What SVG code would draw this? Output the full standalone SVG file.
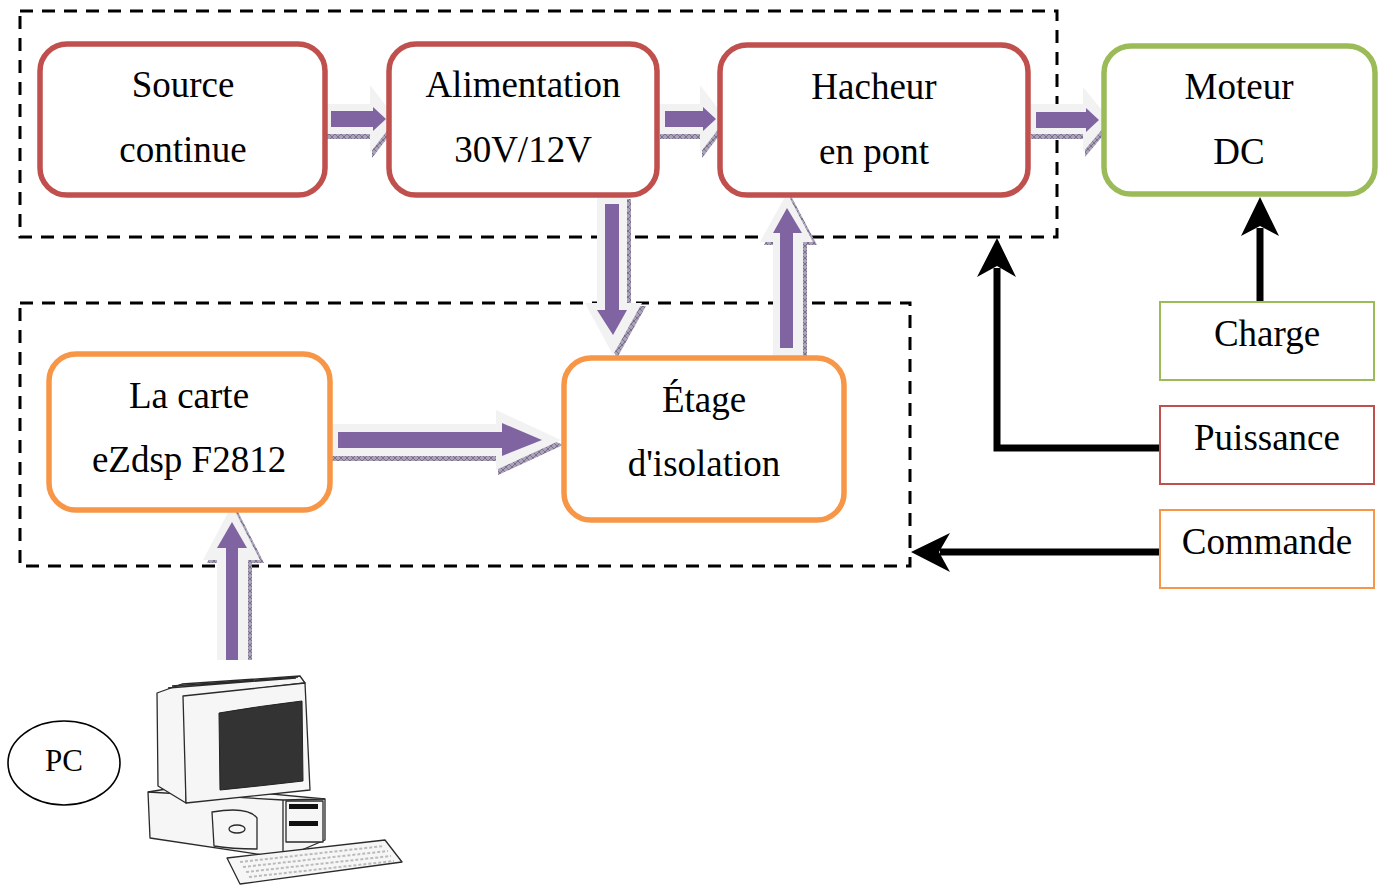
<svg xmlns="http://www.w3.org/2000/svg" width="1379" height="885" viewBox="0 0 1379 885">
  <defs>
    <style>
      .lbl { font-family: "Liberation Serif", "Times New Roman", serif; font-size: 37px; fill: #000; text-anchor: middle; }
      .frame { fill: none; stroke: #000; stroke-width: 3; stroke-dasharray: 13 9; }
      .red { fill: #fff; stroke: #c0504d; stroke-width: 5.5; }
      .green { fill: #fff; stroke: #9bbb59; stroke-width: 5.5; }
      .orange { fill: #fff; stroke: #f79646; stroke-width: 5.5; }
      .tag-green { fill: #fff; stroke: #9bbb59; stroke-width: 2; }
      .tag-red { fill: #fff; stroke: #c0504d; stroke-width: 2; }
      .tag-orange { fill: #fff; stroke: #f79646; stroke-width: 2; }
      .wire { fill: none; stroke: #000; stroke-width: 7; }
      .head { fill: #000; }
      .shadow { fill: url(#hatch); }
      .rim { fill: #f2f2f2; }
      .core { fill: #8064a2; }
      .pc { fill: #f6f6f6; stroke: #2a2a2a; stroke-width: 1.3; stroke-linejoin: round; }
    </style>
    <pattern id="hatch" width="6" height="6" patternUnits="userSpaceOnUse">
      <rect width="6" height="6" fill="#aaa2b8"/>
      <path d="M0,0 L6,6 M6,0 L0,6" stroke="#6e6482" stroke-width="0.8"/>
    </pattern>
  </defs>

  <!-- grouping frames -->
  <rect class="frame" x="20" y="11" width="1037" height="226"/>
  <rect class="frame" x="20" y="303" width="890" height="263"/>

  <!-- connectors -->
  <g id="connectors">
    <!-- power path: block arrows (shadow, light rim, purple core) -->
    <g id="a-source-alim">
      <path class="shadow" transform="translate(2,5)" d="M325,104 H370 V85 L396,119 L370,153 V134 H325 Z"/>
      <path class="rim" d="M325,104 H370 V85 L396,119 L370,153 V134 H325 Z"/>
      <path class="core" d="M331,111 H373 V107 L386,119 L373,131 V127 H331 Z"/>
    </g>
    <g id="a-alim-hacheur">
      <path class="shadow" transform="translate(2,5)" d="M658,104 H700 V85 L726,119 L700,153 V134 H658 Z"/>
      <path class="rim" d="M658,104 H700 V85 L726,119 L700,153 V134 H658 Z"/>
      <path class="core" d="M665,111 H703 V107 L716,119 L703,131 V127 H665 Z"/>
    </g>
    <g id="a-hacheur-moteur">
      <path class="shadow" transform="translate(2,5)" d="M1029,104 H1083 V87 L1110,120 L1083,152 V134 H1029 Z"/>
      <path class="rim" d="M1029,104 H1083 V87 L1110,120 L1083,152 V134 H1029 Z"/>
      <path class="core" d="M1036,112 H1086 V108 L1099,120 L1086,132 V128 H1036 Z"/>
    </g>
    <g id="a-alim-etage">
      <path class="shadow" transform="translate(4,3)" d="M597,196 H627 V303 H642 L613,355 L585,303 H597 Z"/>
      <path class="rim" d="M597,196 H627 V303 H642 L613,355 L585,303 H597 Z"/>
      <path class="core" d="M605,204 H619 V310 H627 L613,335 L597,310 H605 Z"/>
    </g>
    <g id="a-etage-hacheur">
      <path class="shadow" transform="translate(4,3)" d="M773,356 V242 H760 L787,193 L813,242 H803 V356 Z"/>
      <path class="rim" d="M773,358 V242 H760 L787,193 L813,242 H803 V358 Z"/>
      <path class="core" d="M780,348 V233 H773 L787,208 L802,233 H793 V348 Z"/>
    </g>
    <g id="a-carte-etage">
      <path class="shadow" transform="translate(2,5)" d="M330,424 H496 V410 L561,440 L496,470 V456 H330 Z"/>
      <path class="rim" d="M330,424 H496 V410 L561,440 L496,470 V456 H330 Z"/>
      <path class="core" d="M338,432 H502 V423 L542,440 L502,456 V448 H338 Z"/>
    </g>
    <g id="a-pc-carte">
      <path class="shadow" transform="translate(4,3)" d="M217,657 V560 H203 L232,505 L260,560 H248 V657 Z"/>
      <path class="rim" d="M217,660 V560 H203 L232,505 L260,560 H248 V660 Z"/>
      <path class="core" d="M226,660 V548 H217 L232,522 L247,548 H238 V660 Z"/>
    </g>

    <!-- legend wires -->
    <g id="w-charge">
      <path class="wire" d="M1260,302 V228"/>
      <path class="head" d="M1260,197 L1279,236 L1260,226 L1241,236 Z"/>
    </g>
    <g id="w-puissance">
      <path class="wire" d="M1160,448 H997 V268"/>
      <path class="head" d="M997,238 L1016,277 L997,266 L977,277 Z"/>
    </g>
    <g id="w-commande">
      <path class="wire" d="M1160,552 H940"/>
      <path class="head" d="M911,552 L950,533 L939,552 L950,572 Z"/>
    </g>
  </g>

  <!-- blocks -->
  <g id="n-source">
    <rect class="red" x="40" y="44" width="285" height="151" rx="27"/>
    <text class="lbl" x="183" y="97">Source</text>
    <text class="lbl" x="183" y="162">continue</text>
  </g>
  <g id="n-alimentation">
    <rect class="red" x="389" y="44" width="268" height="151" rx="27"/>
    <text class="lbl" x="523" y="97">Alimentation</text>
    <text class="lbl" x="523" y="162">30V/12V</text>
  </g>
  <g id="n-hacheur">
    <rect class="red" x="720" y="45" width="308" height="150" rx="27"/>
    <text class="lbl" x="874" y="99">Hacheur</text>
    <text class="lbl" x="874" y="164">en pont</text>
  </g>
  <g id="n-moteur">
    <rect class="green" x="1104" y="46" width="271" height="148" rx="27"/>
    <text class="lbl" x="1239" y="99">Moteur</text>
    <text class="lbl" x="1239" y="164">DC</text>
  </g>
  <g id="n-carte">
    <rect class="orange" x="49" y="354" width="281" height="156" rx="27"/>
    <text class="lbl" x="189" y="408">La carte</text>
    <text class="lbl" x="189" y="472">eZdsp F2812</text>
  </g>
  <g id="n-etage">
    <rect class="orange" x="564" y="358" width="280" height="162" rx="27"/>
    <text class="lbl" x="704" y="412">Étage</text>
    <text class="lbl" x="704" y="476">d'isolation</text>
  </g>

  <!-- legend -->
  <g id="n-charge">
    <rect class="tag-green" x="1160" y="302" width="214" height="78"/>
    <text class="lbl" x="1267" y="346">Charge</text>
  </g>
  <g id="n-puissance">
    <rect class="tag-red" x="1160" y="406" width="214" height="78"/>
    <text class="lbl" x="1267" y="450">Puissance</text>
  </g>
  <g id="n-commande">
    <rect class="tag-orange" x="1160" y="510" width="214" height="78"/>
    <text class="lbl" x="1267" y="554">Commande</text>
  </g>

  <!-- PC label -->
  <g id="n-pc-label">
    <ellipse cx="64" cy="763" rx="56" ry="42" fill="#fff" stroke="#000" stroke-width="1.6"/>
    <text x="64" y="771" font-family="'Liberation Serif', 'Times New Roman', serif" font-size="31" text-anchor="middle">PC</text>
  </g>

  <!-- desktop computer -->
  <g id="n-pc">
    <!-- system unit -->
    <path class="pc" d="M148,792 L185,786 L325,799 L325,840 L283,858 L150,838 Z"/>
    <path class="pc" d="M148,792 L283,800 L325,799"/>
    <path class="pc" d="M283,800 V858"/>
    <path class="pc" d="M212,812 Q248,806 257,818 V849 Q232,849 214,846 Z"/>
    <ellipse class="pc" cx="237" cy="829" rx="8" ry="4"/>
    <rect class="pc" x="286" y="801" width="37" height="41"/>
    <rect x="289" y="804" width="29" height="5" fill="#111"/>
    <rect x="289" y="821" width="29" height="5" fill="#111"/>
    <!-- monitor -->
    <path class="pc" d="M157,693 L182,684 L300,676 L305,683 L186,697 L186,803 L158,786 Z"/>
    <path class="pc" d="M168,688 L296,678 M172,686 L298,677" stroke-width="0.8"/>
    <path class="pc" d="M183,696 L305,683 L310,790 L186,803 Z"/>
    <path d="M219,713 Q260,706 302,701 L303,781 Q260,786 220,790 Z" fill="#333" stroke="#222" stroke-width="1"/>
    <!-- keyboard -->
    <path class="pc" d="M227,858 L385,840 L402,862 L240,884 Z"/>
    <path d="M240,862 L384,846 M243,867 L388,851 M246,872 L391,856 M249,877 L394,861" stroke="#bbb" stroke-width="2" stroke-dasharray="3 2" fill="none"/>
  </g>
</svg>
